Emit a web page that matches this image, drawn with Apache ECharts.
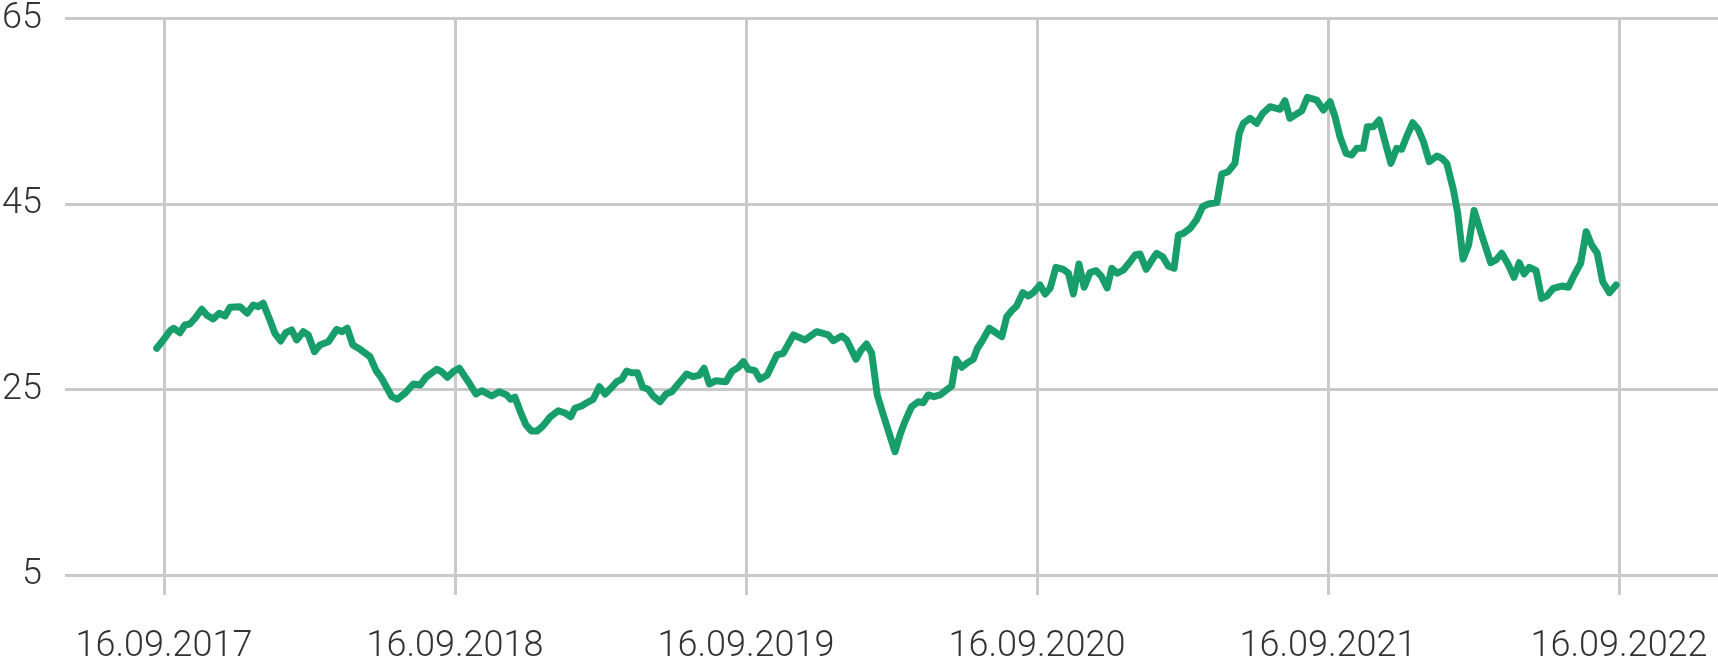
<!DOCTYPE html>
<html>
<head>
<meta charset="utf-8">
<script src="https://cdn.jsdelivr.net/npm/echarts@6/dist/echarts.min.js"></script>
<style>
html,body{margin:0;padding:0;background:#fff;}
#chart{width:1718px;height:658px;}
</style>
</head>
<body>
<div id="chart"></div>
<script>
// time in decimal years
const times = [
2017.682,2017.705,2017.728,2017.741,2017.762,2017.779,2017.796,2017.814,2017.837,2017.854,
2017.876,2017.897,2017.917,2017.934,2017.968,2017.993,2018.014,2018.031,2018.048,2018.071,
2018.088,2018.108,2018.126,2018.146,2018.163,2018.186,2018.203,2018.224,2018.243,2018.272,
2018.301,2018.318,2018.337,2018.356,2018.381,2018.415,2018.436,2018.455,2018.490,2018.509,
2018.535,2018.564,2018.587,2018.607,2018.644,2018.661,2018.681,2018.701,2018.722,2018.753,
2018.779,2018.799,2018.833,2018.859,2018.885,2018.898,2018.913,2018.936,2018.951,2018.970,
2018.989,2019.009,2019.034,2019.062,2019.085,2019.105,2019.119,2019.142,2019.160,2019.182,
2019.203,2019.223,2019.246,2019.263,2019.280,2019.297,2019.314,2019.334,2019.352,2019.371,
2019.388,2019.412,2019.432,2019.452,2019.474,2019.503,2019.526,2019.547,2019.563,2019.581,
2019.604,2019.638,2019.658,2019.681,2019.698,2019.715,2019.738,2019.755,2019.780,2019.813,
2019.835,2019.870,2019.910,2019.950,2019.990,2020.007,2020.036,2020.053,2020.067,2020.085,
2020.101,2020.121,2020.139,2020.158,2020.179,2020.199,2020.219,2020.236,2020.253,2020.276,
2020.299,2020.316,2020.333,2020.353,2020.374,2020.399,2020.414,2020.429,2020.448,2020.468,
2020.488,2020.502,2020.517,2020.543,2020.566,2020.586,2020.603,2020.620,2020.637,2020.658,
2020.677,2020.694,2020.717,2020.735,2020.752,2020.772,2020.797,2020.815,2020.832,2020.851,
2020.869,2020.889,2020.910,2020.929,2020.948,2020.964,2020.983,2021.004,2021.027,2021.044,
2021.061,2021.082,2021.101,2021.118,2021.139,2021.158,2021.178,2021.193,2021.210,2021.233,
2021.256,2021.276,2021.296,2021.325,2021.342,2021.364,2021.387,2021.402,2021.416,2021.439,
2021.462,2021.483,2021.508,2021.542,2021.559,2021.576,2021.599,2021.617,2021.636,2021.668,
2021.691,2021.714,2021.731,2021.748,2021.769,2021.788,2021.806,2021.828,2021.842,2021.863,
2021.883,2021.903,2021.923,2021.943,2021.960,2021.977,2021.998,2022.017,2022.035,2022.055,
2022.081,2022.098,2022.115,2022.138,2022.152,2022.171,2022.190,2022.209,2022.235,2022.266,
2022.284,2022.304,2022.327,2022.346,2022.364,2022.381,2022.399,2022.422,2022.441,2022.459,
2022.481,2022.510,2022.533,2022.550,2022.575,2022.594,2022.613,2022.632,2022.651,2022.674,
2022.697
];
const values = [
29.45,30.35,31.35,31.61,31.13,31.97,32.07,32.69,33.66,33.04,
32.61,33.23,32.94,33.87,33.94,33.23,34.12,33.94,34.31,32.50,
31.07,30.24,31.13,31.43,30.35,31.24,30.89,29.09,29.81,30.16,
31.50,31.24,31.61,29.81,29.34,28.55,27.04,26.22,24.23,23.95,
24.60,25.60,25.49,26.32,27.19,26.93,26.32,26.93,27.30,25.85,
24.52,24.88,24.31,24.77,24.42,23.95,24.17,22.26,21.18,20.53,
20.53,21.07,22.04,22.72,22.47,22.07,22.98,23.23,23.58,23.95,
25.31,24.52,25.25,25.85,26.11,27.00,26.82,26.82,25.25,25.03,
24.31,23.69,24.52,24.77,25.60,26.68,26.39,26.57,27.30,25.60,
25.96,25.85,26.93,27.40,28.01,27.19,27.04,26.11,26.57,28.73,
28.91,30.89,30.35,31.24,30.89,30.27,30.78,30.35,29.45,28.27,
29.19,29.92,28.91,24.42,22.26,20.28,18.30,20.10,21.54,23.15,
23.69,23.58,24.42,24.23,24.42,25.03,25.39,28.27,27.40,27.90,
28.27,29.45,30.16,31.61,31.13,30.70,32.86,33.51,34.01,35.45,
35.09,35.45,36.28,35.31,35.92,38.19,37.97,37.54,35.31,38.54,
36.03,37.61,37.82,37.17,35.96,38.08,37.54,37.90,38.79,39.51,
39.62,37.97,38.90,39.70,39.33,38.33,38.08,41.67,41.85,42.39,
43.36,44.72,45.02,45.16,48.25,48.50,49.40,52.64,53.72,54.26,
53.72,54.80,55.51,55.23,56.16,54.26,54.72,55.08,56.52,56.23,
55.15,56.05,54.43,52.27,50.48,50.30,51.02,51.02,53.35,53.35,
54.07,51.73,49.40,51.02,50.91,52.27,53.78,53.07,51.73,49.58,
50.19,49.94,49.40,46.52,44.15,39.08,40.59,44.31,41.67,38.68,
38.98,39.70,38.44,37.11,38.68,37.47,38.19,37.82,34.84,35.09,
35.92,36.17,36.03,37.17,38.62,42.03,40.59,39.70,36.63,35.45,
36.28
];
const tickValues = [2017.707, 2018.707, 2019.707, 2020.707, 2021.707, 2022.707];
const tickLabels = ['16.09.2017','16.09.2018','16.09.2019','16.09.2020','16.09.2021','16.09.2022'];

const chart = echarts.init(document.getElementById('chart'), null, {renderer:'canvas'});
const gridStyle = {color:'#cacaca', width:3};
const fontFamily = 'Roboto, "Noto Sans", sans-serif';
chart.setOption({
  animation:false,
  grid:{left:65, right:0, top:18.7, bottom:83, containLabel:false, outerBoundsMode:'none'},
  xAxis:{
    type:'value',
    min:2017.367,
    max:2023.047,
    axisLine:{show:false},
    axisTick:{show:true, length:20, lineStyle:gridStyle, customValues:tickValues},
    splitLine:{show:true, lineStyle:gridStyle},
    axisLabel:{
      customValues:tickValues,
      margin:54,
      fontSize:36,
      fontWeight:300,
      lineHeight:36,
      color:'#333',
      fontFamily:fontFamily,
      formatter:function(v){
        let best=0, d=1e9;
        tickValues.forEach((t,i)=>{ if(Math.abs(t-v)<d){d=Math.abs(t-v);best=i;} });
        return tickLabels[best];
      }
    }
  },
  yAxis:{
    type:'value',
    min:5, max:65, interval:20,
    axisLine:{show:false},
    axisTick:{show:false},
    splitLine:{show:true, lineStyle:gridStyle},
    axisLabel:{margin:23, fontSize:36, fontWeight:300, color:'#333', fontFamily:fontFamily, padding:[7,0,0,0]}
  },
  series:[{
    type:'line',
    data:times.map((t,i)=>[t, values[i]]),
    showSymbol:false,
    symbol:'none',
    lineStyle:{color:'#189e6b', width:7, join:'round', cap:'round'},
    z:5
  }]
});
</script>
</body>
</html>
